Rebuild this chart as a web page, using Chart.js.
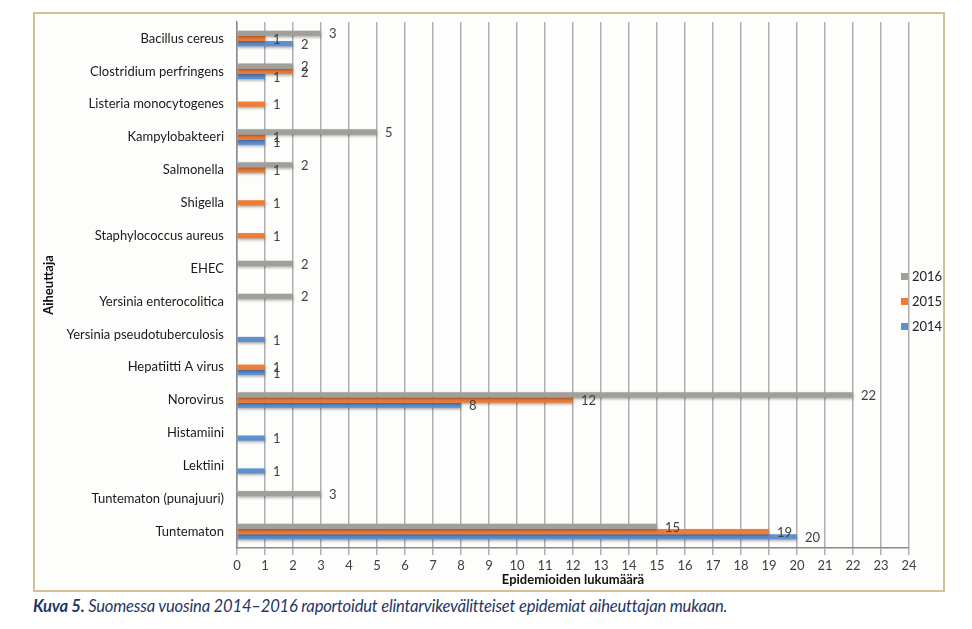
<!DOCTYPE html>
<html>
<head>
<meta charset="utf-8">
<script src="https://cdn.jsdelivr.net/npm/chart.js@4.4.1/dist/chart.umd.min.js"></script>
<style>
    body { margin: 0; background: #ffffff; width: 972px; height: 629px; position: relative; overflow: hidden; }
    #frame { position: absolute; left: 33px; top: 12px; width: 908px; height: 576px; border: 2px solid #d2c096; background: #fdfdfb; }
    #chart { display: block; }
    #caption { position: absolute; left: 33px; top: 596px; font-family: Lato, sans-serif; font-style: italic; font-size: 16.6px; color: #1f3766; letter-spacing: -0.2px; white-space: nowrap; }
    #caption b { font-weight: 700; }
</style>
</head>
<body>
<div id="frame"><canvas id="chart" width="908" height="576" style="width:908px;height:576px"></canvas></div>
<div id="caption"><b>Kuva 5.</b> Suomessa vuosina 2014–2016 raportoidut elintarvikevälitteiset epidemiat aiheuttajan mukaan.</div>
<script>
const categories = ['Bacillus cereus', 'Clostridium perfringens', 'Listeria monocytogenes', 'Kampylobakteeri',
    'Salmonella', 'Shigella', 'Staphylococcus aureus', 'EHEC', 'Yersinia enterocolitica',
    'Yersinia pseudotuberculosis', 'Hepatiitti A virus', 'Norovirus', 'Histamiini', 'Lektiini',
    'Tuntematon (punajuuri)', 'Tuntematon'];
const years = ['2016', '2015', '2014'];
const values2016 = [3, 2, null, 5, 2, null, null, 2, 2, null, null, 22, null, null, 3, 15];
const values2015 = [1, 2, 1, 1, 1, 1, 1, null, null, null, 1, 12, null, null, null, 19];
const values2014 = [2, 1, null, 1, null, null, null, null, null, 1, 1, 8, 1, 1, null, 20];
const xTicksMax = 24;

const colors = ['#a29e9a', '#ef7b35', '#5f8fcf'];
const textColor = '#404040';
const fontFamily = 'Lato, "Open Sans", sans-serif';

// shadow under bars + value labels at bar ends
const barExtras = {
    id: 'barExtras',
    beforeDatasetsDraw(chart) {
        const ctx = chart.ctx;
        ctx.save();
        ctx.shadowColor = 'rgba(0,0,0,0.35)';
        ctx.shadowBlur = 3;
        ctx.shadowOffsetY = 1.5;
    },
    afterDatasetsDraw(chart) {
        const ctx = chart.ctx;
        ctx.restore();
        ctx.save();
        ctx.font = '13px ' + fontFamily;
        ctx.fillStyle = textColor;
        ctx.textAlign = 'left';
        ctx.textBaseline = 'middle';
        chart.data.datasets.forEach((ds, i) => {
            const meta = chart.getDatasetMeta(i);
            meta.data.forEach((bar, j) => {
                const v = ds.data[j];
                if (v === null) return;
                ctx.fillText(String(v), bar.x + 8, bar.y + 1);
            });
        });
        ctx.restore();
    }
};

// legend sitting on the right edge of the plot
const sideLegend = {
    id: 'sideLegend',
    afterDraw(chart) {
        const ctx = chart.ctx;
        const area = chart.chartArea;
        const midY = (area.top + area.bottom) / 2;
        ctx.save();
        ctx.font = '13px ' + fontFamily;
        ctx.textBaseline = 'middle';
        chart.data.datasets.forEach((ds, i) => {
            const y = midY - 8 + i * 25;
            ctx.fillStyle = ds.backgroundColor;
            ctx.fillRect(area.right - 8, y - 4, 7, 7);
            ctx.fillStyle = '#222222';
            ctx.fillText(ds.label, area.right + 3, y);
        });
        ctx.restore();
    }
};

new Chart(document.getElementById('chart'), {
    type: 'bar',
    data: {
        labels: categories,
        datasets: [
            { label: years[0], data: values2016, backgroundColor: colors[0] },
            { label: years[1], data: values2015, backgroundColor: colors[1] },
            { label: years[2], data: values2014, backgroundColor: colors[2] }
        ]
    },
    options: {
        indexAxis: 'y',
        responsive: false,
        animation: false,
        categoryPercentage: 0.47,
        barPercentage: 1,
        layout: { padding: { top: 8, right: 34, left: 0, bottom: 0 } },
        plugins: {
            legend: { display: false },
            tooltip: { enabled: false }
        },
        scales: {
            x: {
                min: 0,
                max: xTicksMax,
                ticks: { stepSize: 1, color: textColor, font: { family: fontFamily, size: 13 }, padding: 3 },
                grid: { color: '#b0b0b0', lineWidth: 1.5, tickLength: 7 },
                border: { color: '#8c8c8c', width: 1.5 },
                title: { display: true, text: 'Epidemioiden lukumäärä', color: '#111111',
                    font: { family: fontFamily, size: 13, weight: 'bold' }, padding: { top: 0, bottom: 2 } },
                afterFit(scale) { scale.height = 42; }
            },
            y: {
                ticks: { color: '#1a1a1a', font: { family: fontFamily, size: 13 }, padding: 13 },
                grid: { display: false, drawTicks: false },
                border: { display: true, color: '#8c8c8c', width: 1.5 },
                title: { display: true, text: 'Aiheuttaja', color: '#111111',
                    font: { family: fontFamily, size: 13, weight: 'bold' }, padding: { top: 6, bottom: 0 } },
                afterFit(scale) {
                    scale.width = 202;
                    scale.paddingTop = 0;
                    scale.paddingBottom = 0;
                }
            }
        }
    },
    plugins: [barExtras, sideLegend]
});
</script>
</body>
</html>
